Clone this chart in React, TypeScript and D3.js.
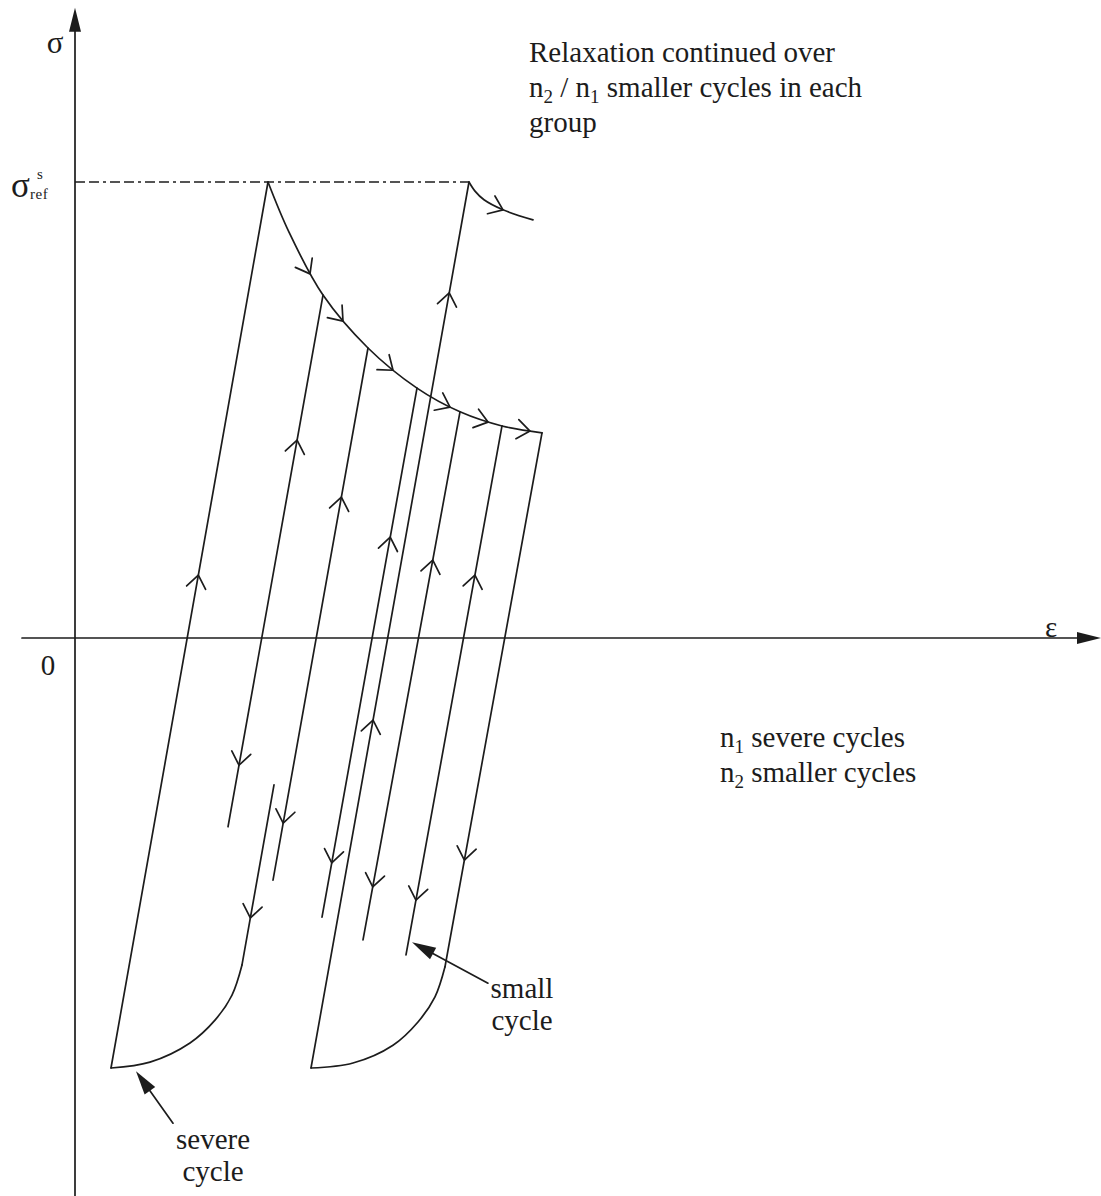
import React, { useEffect, useRef } from "react";
import * as d3 from "d3";

const WIDTH = 1101;
const HEIGHT = 1196;

type Pt = [number, number]; // [strain ε, stress σ]

// stress is expressed relative to the reference level (σ_ref = 100)
const SIGMA_REF = 100;
const SIGMA_AXIS: Pt = [-122.4, 138.2];
const EPS_AXIS: Pt = [-5.3, 102.6];

// severe cycles: elastic loading up to σ_ref
const severeLoading1: Pt[] = [[3.6, -94.3], [19.3, 100]];
const severeLoading2: Pt[] = [[23.6, -94.3], [39.4, 100]];

// stress relaxation at the hold, first group and continuation in the next
const relaxation1: Pt[] = [
  [19.3, 100], [21.4, 89.0], [24.8, 75.2], [29.3, 63.6],
  [34.2, 54.8], [38.5, 49.6], [42.7, 46.5], [46.7, 45.0],
];
const relaxation2: Pt[] = [[39.4, 100], [40.0, 98.0], [40.9, 96.1], [42.8, 93.9], [45.8, 91.7]];

// smaller cycles: unloading / reloading from the relaxation curve
const smallCycle1: Pt[] = [[24.8, 75.2], [15.3, -41.4]];
const smallCycle2: Pt[] = [[29.3, 63.6], [19.8, -53.1]];
const smallCycle3: Pt[] = [[34.2, 54.8], [24.7, -61.2]];
const smallCycle4: Pt[] = [[38.5, 49.6], [28.8, -66.2]];
const smallCycle5: Pt[] = [[42.7, 46.5], [33.1, -69.5]];

// severe unloading, then reversed plasticity down to the compressive limit
const severeUnloading1: Pt[] = [[19.9, -32.2], [16.7, -71.7]];
const severeUnloading2: Pt[] = [[46.7, 45.0], [37.0, -72.1]];
const reversePlastic1: Pt[] = [[16.7, -71.7], [15.7, -78.3], [14.0, -83.8], [11.5, -88.8], [7.5, -93.0], [3.6, -94.3]];
const reversePlastic2: Pt[] = [[37.0, -72.1], [36.0, -78.7], [34.3, -84.2], [31.8, -89.3], [27.8, -93.2], [23.6, -94.3]];

const straightBranches: Record<string, Pt[]> = {
  severeLoading1, severeLoading2,
  smallCycle1, smallCycle2, smallCycle3, smallCycle4, smallCycle5,
  severeUnloading1, severeUnloading2,
};
const curvedBranches: Record<string, Pt[]> = {
  relaxation1, relaxation2, reversePlastic1, reversePlastic2,
};

// direction markers on straight branches: stress at the tip, sense of travel
const lineArrows: { branch: string; sigma: number; dir: "up" | "down" }[] = [
  { branch: "severeLoading1", sigma: 13.8, dir: "up" },
  { branch: "smallCycle1", sigma: 43.4, dir: "up" },
  { branch: "smallCycle1", sigma: -27.9, dir: "down" },
  { branch: "smallCycle2", sigma: 30.9, dir: "up" },
  { branch: "smallCycle2", sigma: -40.6, dir: "down" },
  { branch: "smallCycle3", sigma: 22.1, dir: "up" },
  { branch: "smallCycle3", sigma: -49.3, dir: "down" },
  { branch: "severeLoading2", sigma: -18.0, dir: "up" },
  { branch: "severeLoading2", sigma: 75.7, dir: "up" },
  { branch: "smallCycle4", sigma: 17.1, dir: "up" },
  { branch: "smallCycle4", sigma: -54.6, dir: "down" },
  { branch: "smallCycle5", sigma: 13.8, dir: "up" },
  { branch: "smallCycle5", sigma: -57.5, dir: "down" },
  { branch: "severeUnloading2", sigma: -48.7, dir: "down" },
  { branch: "severeUnloading1", sigma: -61.4, dir: "down" },
];

// direction markers on the relaxation curves, placed by strain
const curveArrows: { branch: string; eps: number }[] = [
  { branch: "relaxation1", eps: 23.5 },
  { branch: "relaxation1", eps: 26.8 },
  { branch: "relaxation1", eps: 31.8 },
  { branch: "relaxation1", eps: 37.5 },
  { branch: "relaxation1", eps: 41.3 },
  { branch: "relaxation1", eps: 45.5 },
  { branch: "relaxation2", eps: 42.8 },
];

// labelled pointers: tail and tip
const pointers: { tail: Pt; tip: Pt }[] = [
  { tail: [41.3, -75.7], tip: [33.7, -66.7] },
  { tail: [9.8, -106.4], tip: [6.1, -95.0] },
];

const INK = "#1c1c1c";
const FONT = "'Liberation Serif', 'Times New Roman', serif";

function chevron(tip: Pt, dir: Pt, len = 15, halfDeg = 36): string {
  const n = Math.hypot(dir[0], dir[1]) || 1;
  const bx = -dir[0] / n;
  const by = -dir[1] / n;
  const a = (halfDeg * Math.PI) / 180;
  const r = (t: number): Pt => [bx * Math.cos(t) - by * Math.sin(t), bx * Math.sin(t) + by * Math.cos(t)];
  const l1 = r(a);
  const l2 = r(-a);
  return `M${tip[0] + l1[0] * len},${tip[1] + l1[1] * len}L${tip[0]},${tip[1]}L${tip[0] + l2[0] * len},${tip[1] + l2[1] * len}`;
}

function solidHead(tip: Pt, dir: Pt, len: number, half: number): string {
  const n = Math.hypot(dir[0], dir[1]) || 1;
  const ux = dir[0] / n;
  const uy = dir[1] / n;
  const bx = tip[0] - ux * len;
  const by = tip[1] - uy * len;
  return `M${tip[0]},${tip[1]}L${bx - uy * half},${by + ux * half}L${bx + uy * half},${by - ux * half}Z`;
}

export default function App() {
  const ref = useRef<SVGGElement>(null);

  useEffect(() => {
    const root = d3.select(ref.current);
    root.selectAll("*").remove();

    const x = d3.scaleLinear().domain([0, 100]).range([75, 1075]);
    const y = d3.scaleLinear().domain([0, SIGMA_REF]).range([638, 182]);
    const px = (p: Pt): Pt => [x(p[0]), y(p[1])];

    const g = root
      .append("g")
      .attr("fill", "none")
      .attr("stroke", INK)
      .attr("stroke-width", 1.7)
      .attr("stroke-linecap", "round")
      .attr("stroke-linejoin", "round");

    // axes
    const yTop: Pt = [x(0), y(SIGMA_AXIS[1])];
    g.append("line")
      .attr("x1", x(0)).attr("y1", y(SIGMA_AXIS[0]))
      .attr("x2", x(0)).attr("y2", yTop[1] + 10);
    g.append("path").attr("d", solidHead(yTop, [0, -1], 24, 6)).attr("fill", INK).attr("stroke", "none");
    const xEnd: Pt = [x(EPS_AXIS[1]), y(0)];
    g.append("line")
      .attr("x1", x(EPS_AXIS[0])).attr("y1", y(0))
      .attr("x2", xEnd[0] - 10).attr("y2", y(0));
    g.append("path").attr("d", solidHead(xEnd, [1, 0], 24, 6)).attr("fill", INK).attr("stroke", "none");

    // reference stress level
    g.append("line")
      .attr("x1", x(0)).attr("y1", y(SIGMA_REF))
      .attr("x2", x(severeLoading2[1][0])).attr("y2", y(SIGMA_REF))
      .attr("stroke-width", 1.4)
      .attr("stroke-linecap", "butt")
      .attr("stroke-dasharray", "10,4,10,4,3,4");

    const straight = d3.line<Pt>().x((d) => x(d[0])).y((d) => y(d[1]));
    const smooth = d3
      .line<Pt>()
      .x((d) => x(d[0]))
      .y((d) => y(d[1]))
      .curve(d3.curveCatmullRom.alpha(0.5));

    Object.entries(straightBranches).forEach(([, pts]) => {
      g.append("path").attr("d", straight(pts) as string);
    });
    const curveNodes: Record<string, SVGPathElement> = {};
    Object.entries(curvedBranches).forEach(([name, pts]) => {
      curveNodes[name] = g.append("path").attr("d", smooth(pts) as string).node() as SVGPathElement;
    });

    // arrows along straight branches
    lineArrows.forEach((a) => {
      const [p0, p1] = straightBranches[a.branch];
      const t = (a.sigma - p0[1]) / (p1[1] - p0[1]);
      const tip = px([p0[0] + t * (p1[0] - p0[0]), a.sigma]);
      const lo = p0[1] < p1[1] ? p0 : p1;
      const hi = p0[1] < p1[1] ? p1 : p0;
      const up: Pt = [x(hi[0]) - x(lo[0]), y(hi[1]) - y(lo[1])];
      const dir: Pt = a.dir === "up" ? up : [-up[0], -up[1]];
      g.append("path").attr("d", chevron(tip, dir, 16, 37));
    });

    // arrows along curves: locate the point by strain on the drawn path
    curveArrows.forEach((a) => {
      const node = curveNodes[a.branch];
      const total = node.getTotalLength();
      const target = x(a.eps);
      let lo = 0;
      let hi = total;
      for (let i = 0; i < 40; i++) {
        const mid = (lo + hi) / 2;
        if (node.getPointAtLength(mid).x < target) lo = mid;
        else hi = mid;
      }
      const s = (lo + hi) / 2;
      const p = node.getPointAtLength(s);
      const q0 = node.getPointAtLength(Math.max(0, s - 3));
      const q1 = node.getPointAtLength(Math.min(total, s + 3));
      g.append("path").attr("d", chevron([p.x, p.y], [q1.x - q0.x, q1.y - q0.y], 16, 37));
    });

    // labelled pointers
    pointers.forEach((pt) => {
      const tail = px(pt.tail);
      const tip = px(pt.tip);
      const dir: Pt = [tip[0] - tail[0], tip[1] - tail[1]];
      const n = Math.hypot(dir[0], dir[1]);
      g.append("line")
        .attr("x1", tail[0]).attr("y1", tail[1])
        .attr("x2", tip[0] - (dir[0] / n) * 20).attr("y2", tip[1] - (dir[1] / n) * 20);
      g.append("path").attr("d", solidHead(tip, dir, 24, 6.5)).attr("fill", INK).attr("stroke", "none");
    });
  }, []);

  const sub = 19;
  return (
    <svg
      width={WIDTH}
      height={HEIGHT}
      style={{ position: "absolute", left: 0, top: 0, background: "#fff", display: "block" }}
    >
      <rect width={WIDTH} height={HEIGHT} fill="#fff" />
      <g ref={ref} />
      <g fill={INK} fontFamily={FONT} fontSize={29}>
        <text x={55} y={53} fontSize={31} textAnchor="middle">σ</text>
        <text x={48} y={675} textAnchor="middle">0</text>
        <text x={1051} y={637} textAnchor="middle">ε</text>

        <text x={11} y={197} fontSize={35}>σ</text>
        <text x={37} y={179} fontSize={15}>s</text>
        <text x={30} y={199} fontSize={15} letterSpacing={0.5}>ref</text>

        <text x={529} y={62}>Relaxation continued over</text>
        <text x={529} y={97}>
          n<tspan fontSize={sub} dy={6}>2</tspan>
          <tspan dy={-6}> / n</tspan>
          <tspan fontSize={sub} dy={6}>1</tspan>
          <tspan dy={-6}> smaller cycles in each</tspan>
        </text>
        <text x={529} y={132}>group</text>

        <text x={720} y={747}>
          n<tspan fontSize={sub} dy={6}>1</tspan>
          <tspan dy={-6}> severe cycles</tspan>
        </text>
        <text x={720} y={782}>
          n<tspan fontSize={sub} dy={6}>2</tspan>
          <tspan dy={-6}> smaller cycles</tspan>
        </text>

        <text x={522} y={998} textAnchor="middle">small</text>
        <text x={522} y={1030} textAnchor="middle">cycle</text>
        <text x={213} y={1149} textAnchor="middle">severe</text>
        <text x={213} y={1181} textAnchor="middle">cycle</text>
      </g>
    </svg>
  );
}
